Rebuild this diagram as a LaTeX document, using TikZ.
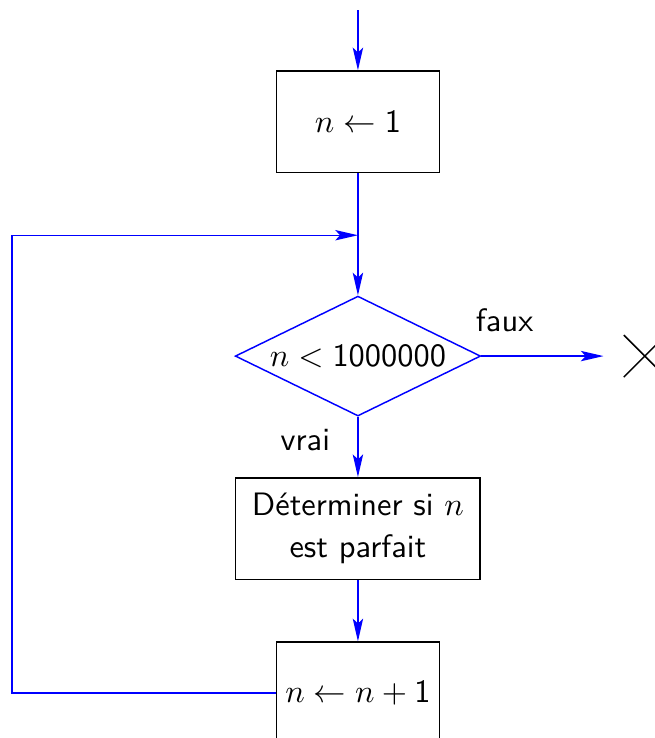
\documentclass[tikz,border=0pt]{standalone}
\usetikzlibrary{shapes.geometric,shapes.misc,arrows.meta}
\begin{document}
\begin{tikzpicture}[font=\sffamily,line width=.45pt,
    fleche/.style={draw=blue,-{Stealth[length=7pt,width=3.2pt,inset=1.5pt]}},
    boite/.style={draw,minimum height=1.1cm,inner xsep=1pt},
    test/.style={draw=blue,diamond,aspect=2,minimum width=2.66cm,minimum height=1.3cm,inner sep=0pt}]
  \useasboundingbox (-3.88,0) rectangle (3.21,-8);
  \coordinate (debut) at (0,-0.11);
  \node[boite,minimum width=1.77cm] (init) at (0,-1.32) {$n \leftarrow \mathsf{1}$};
  \coordinate (jonction) at (0,-2.55);
  \node[test] (cond) at (0,-3.86) {$n < \mathsf{1000000}$};
  \node[draw,cross out,minimum size=.44cm,inner sep=0pt] (fin) at (3.11,-3.86) {};
  \node (faux) at (1.59,-3.47) {faux};
  \node (vrai) at (-0.57,-4.77) {vrai};
  \node[boite,minimum width=2.65cm,align=center] (parfait) at (0,-5.73) {Déterminer si $n$\\[1pt]est parfait};
  \node[boite,minimum width=1.77cm] (incr) at (0,-7.51) {$n \leftarrow n+\mathsf{1}$};
  \coordinate (gauche) at (-3.75,-7.51);
  \draw[fleche] (debut) -- (init);
  \draw[fleche] (init) -- (cond);
  \draw[fleche,shorten >=.22cm] (cond) -- (fin);
  \draw[fleche] (cond) -- (parfait);
  \draw[fleche] (parfait) -- (incr);
  \draw[fleche] (incr.west) -- (gauche) |- (jonction);
\end{tikzpicture}
\end{document}
